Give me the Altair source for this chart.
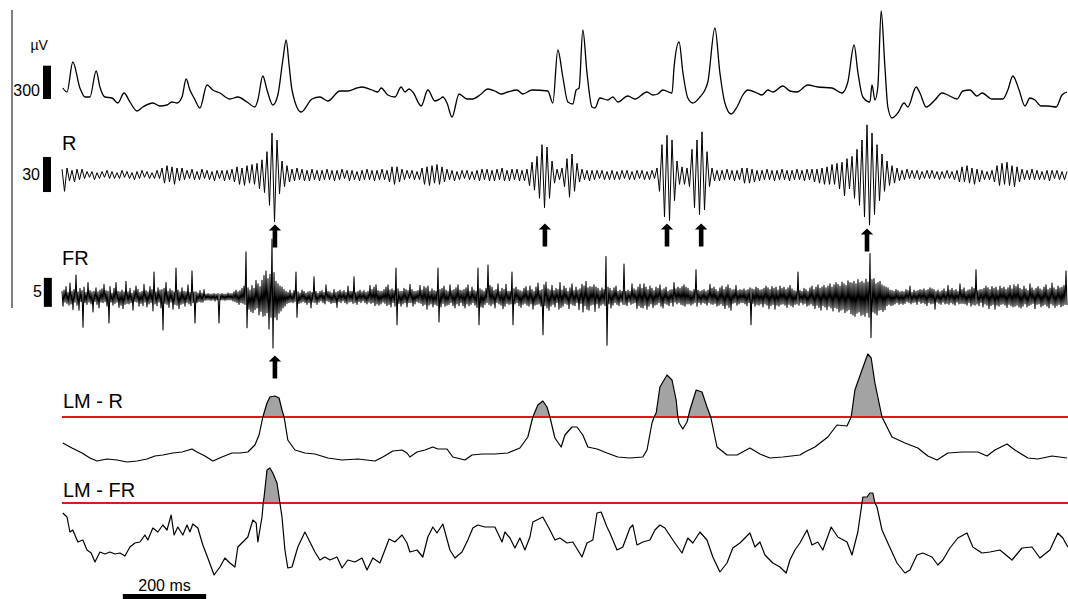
import altair as alt
import pandas as pd

# ---------------------------------------------------------------------------
# Recorded traces. Time in ms from the start of the sweep.
# ---------------------------------------------------------------------------

# Wide-band LFP (µV), breakpoints
raw_t = [2, 12, 26, 43, 55, 67, 82, 91, 103, 120,
         134, 149, 163, 180, 194, 218, 235, 252, 264, 276,
         288, 298, 307, 317, 331, 348, 362, 379, 403, 422,
         444, 463, 470, 482, 492, 506, 518, 530, 538, 545,
         552, 574, 600, 619, 638, 667, 686, 708, 720, 744,
         758, 766, 782, 799, 814, 823, 833, 842, 862, 878,
         895, 907, 914, 924, 936, 953, 972, 986, 1003, 1022,
         1039, 1054, 1070, 1092, 1106, 1128, 1166, 1178, 1190, 1202,
         1214, 1226, 1234, 1241, 1250, 1260, 1272, 1279, 1291, 1310,
         1322, 1334, 1358, 1375, 1404, 1418, 1430, 1442, 1464, 1469,
         1481, 1490, 1502, 1514, 1531, 1543, 1550, 1567, 1579, 1591,
         1606, 1620, 1634, 1646, 1668, 1680, 1694, 1706, 1730, 1747,
         1764, 1790, 1814, 1848, 1872, 1886, 1901, 1910, 1922, 1939,
         1944, 1951, 1958, 1966, 1975, 1982, 1992, 2006, 2021, 2030,
         2050, 2059, 2074, 2095, 2112, 2126, 2148, 2162, 2179, 2196,
         2208, 2232, 2258, 2270, 2282, 2297, 2311, 2323, 2335, 2350,
         2366, 2386, 2400, 2412]
raw_uv = [45, 9, 279, 45, -36, -36, 198, 54, -36, -45,
          -90, 0, -81, -162, -126, -90, -117, -108, -81, -90,
          -36, 126, 27, -45, -135, 72, 27, 0, -54, -36,
          -81, -126, -63, 153, 27, -108, -18, 297, 477, 252,
          27, -171, -54, -36, -72, 18, 18, 45, 54, 27,
          9, 45, -18, -36, 54, 9, 36, 9, -117, 27,
          -72, -54, -36, -90, -216, -9, -54, -54, -18, 36,
          18, -9, 9, 27, -9, 27, 18, -90, 387, 144,
          -81, -99, 27, 45, 567, 180, -126, -135, -45, -63,
          -36, -81, -27, -54, 9, -18, -9, 27, 0, 234,
          459, 189, -45, -90, -36, 27, 99, 585, 180, -90,
          -189, -126, -18, 27, 0, -18, 27, 9, 63, 18,
          9, 72, 54, 45, 0, 99, 432, 189, -36, -81,
          72, -63, 54, 738, 234, -126, -225, -180, -90, -126,
          54, 0, -126, -63, 0, -18, -54, 18, 27, -27,
          0, -54, -54, 27, 153, 27, -117, -45, -63, -117,
          -117, -126, -18, 9]

# Ripple band (R), successive half-cycle extremes, one every 6 ms
ripple_dt = 6.0
ripple = [5, -14, 6, -5, 4, -6, 5, -4, 5, -3, 3, -2, 3, -4, 2, -3, 3, -2, 4, -3,
          3, -3, 2, -3, 4, -2, 3, -3, 2, -4, 3, -3, 4, -2, 3, -3, 2, -3, 4, -3,
          6, -7, 8, -6, 7, -8, 6, -5, 6, -4, 4, -3, 5, -4, 3, -4, 5, -3, 4, -4,
          3, -5, 4, -3, 4, -5, 4, -4, 5, -6, 7, -8, 6, -9, 8, -7, 9, -8, 10, -12,
          13, -15, 20, -26, 36, -40, 30, -16, 12, -10, 8, -6, 5, -5, 6, -4, 5, -5, 4, -5,
          5, -4, 4, -5, 4, -4, 5, -4, 4, -5, 4, -4, 5, -3, 4, -5, 4, -4, 3, -5,
          4, -4, 5, -4, 4, -5, 4, -4, 5, -4, 4, -6, 7, -8, 7, -6, 5, -4, 4, -3,
          4, -4, 3, -4, 6, -8, 7, -9, 8, -7, 9, -8, 7, -6, 5, -4, 4, -5, 3, -4,
          4, -3, 4, -4, 3, -4, 4, -5, 5, -4, 5, -5, 4, -5, 5, -4, 6, -5, 4, -5,
          5, -4, 5, -5, 4, -5, 5, -9, 11, -13, 16, -20, 26, -28, 24, -20, 12, -7, 5, -4,
          6, -10, 14, -19, 18, -14, 10, -6, 5, -4, 4, -5, 4, -4, 4, -3, 4, -4, 3, -4,
          4, -4, 3, -4, 4, -3, 4, -4, 3, -4, 4, -3, 4, -4, 3, -4, 4, -3, 6, -14,
          26, -36, 34, -39, 30, -22, 12, -8, 7, -8, 6, -10, 22, -28, 30, -34, 37, -30, 20, -10,
          6, -5, 4, -5, 4, -4, 5, -4, 4, -5, 4, -4, 6, -7, 6, -7, 5, -6, 4, -5,
          4, -4, 5, -4, 4, -5, 4, -4, 5, -4, 4, -5, 4, -4, 5, -4, 4, -5, 5, -4,
          5, -6, 5, -7, 6, -8, 7, -8, 9, -8, 10, -12, 11, -18, 14, -12, 16, -20, 22, -26,
          30, -36, 43, -43, 36, -34, 26, -22, 18, -14, 12, -9, 8, -7, 6, -5, 4, -4, 5, -3,
          4, -3, 4, -4, 3, -3, 4, -3, 4, -3, 3, -4, 3, -3, 4, -3, 3, -4, 4, -6,
          7, -6, 8, -7, 6, -8, 5, -6, 4, -4, 3, -4, 4, -6, 8, -9, 10, -8, 11, -9,
          8, -10, 7, -6, 5, -4, 4, -4, 5, -4, 4, -4, 3, -4, 4, -5, 4, -3, 4, -4,
          3, -4, 3]

# Fast-ripple band (FR), successive extremes, one every 2.4 ms
fast_dt = 2.4
fast = [
    1.0, -1.6, 1.2, -0.9, 1.8, -1.1, 0.8, -1.4, 2.4, -1.2, 1.0, -2.2, 1.3, -0.9, 3.8, -1.4, 0.9, -2.3, 1.5, -0.8,
    1.1, -5.2, 1.7, -1.0, 0.8, -1.3, 2.5, -0.9, 1.1, -1.2, 0.9, -2.6, 1.0, -0.8, 1.6, -1.3, 0.9, -1.9, 1.2, -0.9,
    1.4, -1.0, 2.2, -0.8, 1.1, -1.6, 1.0, -4.5, 1.8, -0.9, 0.7, -1.4, 1.5, -1.1, 2.5, -0.9, 1.0, -1.8, 0.9, -1.4,
    1.2, -2.0, 0.9, -1.3, 2.7, -1.1, 0.9, -1.2, 1.5, -1.0, 0.7, -2.3, 1.1, -0.8, 1.9, -0.9, 1.3, -1.6, 0.8, -1.1,
    1.0, -1.5, 2.2, -0.9, 1.1, -1.7, 0.9, -1.2, 1.8, -1.0, 1.3, -2.4, 4.3, -1.2, 0.9, -1.5, 1.6, -0.9, 1.2, -1.9,
    1.3, -5.7, 1.5, -1.1, 2.5, -1.3, 1.0, -1.8, 1.4, -0.9, 1.1, -2.1, 0.9, -1.3, 5.0, -1.4, 1.2, -2.0, 0.9, -1.3,
    1.6, -1.1, 1.0, -1.6, 0.9, -1.0, 2.1, -1.2, 0.8, -1.5, 4.5, -1.0, 0.9, -4.5, 0.9, -1.0, 0.7, -0.8, 1.1, -0.9,
    0.7, -0.9, 1.3, -0.6, 0.5, -0.5, 0.6, -0.5, 0.5, -0.6, 0.5, -0.5, 0.6, -0.7, 0.5, -0.5, 0.6, -4.5, 0.5, -0.5,
    0.6, -0.5, 0.5, -0.6, 0.5, -0.5, 0.7, -0.5, 0.6, -0.5, 0.6, -0.7, 0.9, -0.8, 1.2, -1.0, 0.9, -1.3, 1.1, -1.0,
    1.5, -1.1, 1.9, -1.3, 7.8, -5.3, 1.6, -2.1, 1.2, -2.5, 2.0, -2.7, 1.5, -2.2, 2.9, -1.9, 2.3, -3.1, 1.8, -2.5,
    2.9, -3.3, 3.7, -3.2, 4.5, -2.7, 3.2, -5.5, 3.9, -3.5, 10.0, -8.8, 4.2, -3.5, 2.7, -3.9, 2.3, -2.8, 1.9, -2.4,
    1.7, -1.9, 1.3, -1.6, 1.0, -1.1, 0.8, -1.0, 1.2, -0.9, 0.7, -1.0, 1.1, -0.8, 4.3, -3.5, 0.9, -1.1, 0.7, -1.0,
    1.2, -0.8, 1.0, -1.0, 0.7, -1.3, 0.9, -1.0, 1.0, -1.9, 0.8, -0.9, 3.5, -1.0, 1.0, -1.3, 0.7, -0.9, 1.0, -0.7,
    1.1, -1.0, 0.8, -1.2, 2.1, -0.7, 1.0, -0.8, 0.9, -1.1, 0.7, -1.0, 1.3, -1.0, 0.8, -1.8, 1.0, -0.8, 1.2, -1.0,
    0.9, -0.7, 1.1, -1.0, 0.8, -1.2, 1.9, -0.9, 1.0, -0.8, 1.0, -1.1, 3.5, -1.0, 0.8, -1.3, 1.0, -0.8, 1.2, -1.0,
    0.9, -0.7, 1.1, -1.0, 0.8, -1.2, 1.0, -0.9, 2.0, -1.1, 1.3, -1.0, 1.7, -1.5, 2.1, -1.2, 1.1, -1.4, 1.0, -1.2,
    1.0, -0.9, 1.3, -1.1, 1.7, -1.5, 2.1, -1.3, 1.2, -1.7, 1.4, -1.0, 1.1, -1.6, 5.0, -4.8, 1.4, -1.1, 1.0, -1.6,
    1.0, -1.2, 1.5, -1.0, 1.3, -1.7, 1.1, -1.0, 2.2, -1.0, 1.3, -1.6, 1.0, -1.2, 1.0, -0.8, 1.1, -1.0, 2.0, -1.1,
    1.2, -1.5, 1.8, -1.3, 1.6, -2.1, 1.9, -1.4, 1.0, -1.2, 1.4, -1.7, 1.1, -1.3, 1.0, -1.5, 5.0, -4.3, 1.3, -1.7,
    1.5, -1.1, 1.9, -1.6, 1.2, -1.4, 1.0, -1.3, 2.1, -1.0, 1.1, -1.5, 1.3, -1.9, 1.6, -1.2, 2.1, -1.5, 1.2, -1.0,
    1.1, -1.5, 1.3, -1.9, 1.6, -1.2, 2.1, -1.5, 1.0, -1.3, 1.7, -1.0, 1.2, -1.4, 1.0, -1.8, 5.0, -4.8, 1.4, -1.7,
    1.2, -1.8, 1.0, -1.3, 1.5, -1.0, 5.5, -1.3, 2.0, -1.5, 1.7, -1.2, 1.1, -1.9, 1.3, -1.0, 2.3, -1.2, 1.0, -1.4,
    1.5, -2.0, 1.3, -1.6, 2.2, -1.1, 1.0, -1.3, 1.0, -1.2, 4.3, -4.8, 1.4, -1.2, 1.7, -1.0, 1.3, -1.5, 1.1, -1.8,
    1.0, -1.3, 1.5, -1.1, 1.8, -1.4, 1.1, -1.6, 1.9, -1.2, 1.3, -2.1, 1.0, -1.4, 1.7, -1.3, 2.4, -1.2, 1.1, -1.6,
    1.3, -6.5, 2.1, -1.5, 2.6, -1.9, 1.4, -2.3, 1.2, -1.6, 2.0, -1.3, 1.1, -1.7, 1.5, -1.0, 1.3, -2.1, 2.5, -1.8,
    1.2, -1.6, 1.9, -1.1, 1.5, -1.3, 1.0, -2.0, 1.6, -1.2, 2.3, -1.4, 1.1, -1.5, 1.7, -1.0, 1.2, -2.2, 1.4, -1.1,
    2.2, -2.6, 1.9, -1.5, 2.7, -2.1, 1.6, -2.3, 1.8, -1.4, 1.7, -1.3, 2.1, -2.5, 1.7, -1.2, 1.5, -1.9, 1.1, -1.4,
    1.6, -1.2, 1.3, -1.5, 7.0, -8.3, 1.7, -1.2, 1.5, -1.9, 1.1, -1.4, 1.6, -1.0, 1.9, -1.3, 1.0, -1.5, 1.2, -0.9,
    1.0, -1.3, 5.7, -1.3, 1.0, -1.5, 1.2, -0.9, 1.0, -1.3, 2.3, -1.1, 1.4, -1.0, 1.2, -2.0, 1.7, -1.5, 2.2, -1.8,
    1.5, -1.9, 2.3, -1.4, 1.7, -2.1, 1.3, -1.6, 1.9, -1.2, 1.5, -1.8, 1.1, -1.4, 1.7, -1.3, 1.5, -1.0, 2.1, -1.6,
    1.2, -1.9, 1.4, -1.1, 1.7, -1.3, 1.0, -1.5, 1.2, -1.0, 1.3, -1.6, 2.5, -0.9, 1.4, -1.2, 1.7, -1.0, 1.5, -1.3,
    1.8, -1.4, 2.1, -1.6, 1.7, -1.2, 1.5, -1.2, 1.1, -1.4, 1.0, -1.2, 1.3, -1.0, 4.7, -1.6, 1.2, -1.0, 1.0, -1.3,
    1.1, -1.0, 1.3, -1.1, 1.0, -1.4, 1.2, -1.0, 2.2, -1.2, 1.5, -1.3, 1.7, -1.1, 1.3, -1.6, 1.0, -1.4, 1.6, -1.2,
    1.9, -1.5, 1.3, -2.0, 1.7, -1.4, 2.1, -1.8, 1.5, -2.3, 1.2, -1.1, 1.3, -1.0, 2.0, -1.4, 1.1, -1.2, 1.3, -1.0,
    1.2, -1.0, 1.4, -1.2, 1.1, -1.5, 1.3, -1.0, 1.6, -4.8, 1.4, -1.1, 1.3, -1.6, 1.7, -1.3, 1.5, -1.4, 1.2, -1.2,
    1.3, -1.7, 1.5, -1.2, 1.9, -1.4, 1.6, -2.0, 1.3, -1.5, 1.8, -1.3, 1.5, -2.1, 1.7, -1.4, 1.2, -1.6, 1.9, -1.3,
    1.5, -1.2, 1.7, -1.4, 1.3, -1.8, 1.6, -1.3, 2.0, -1.5, 1.4, -1.7, 1.1, -1.3, 1.0, -1.2, 4.3, -1.4, 1.1, -1.0,
    1.0, -1.3, 1.5, -1.1, 1.3, -1.6, 1.0, -1.4, 1.6, -1.2, 1.9, -1.5, 1.3, -2.0, 1.7, -1.4, 2.1, -1.8, 1.5, -2.3,
    1.7, -1.5, 2.0, -1.7, 1.6, -2.2, 1.9, -1.6, 2.3, -1.9, 1.7, -2.4, 2.1, -1.8, 2.5, -2.0, 2.2, -2.6, 1.9, -2.3,
    2.6, -2.1, 2.3, -2.7, 2.0, -2.4, 2.8, -2.2, 2.5, -2.9, 2.4, -3.1, 2.7, -3.3, 2.3, -2.8, 3.0, -2.6, 2.5, -3.2,
    2.7, -3.0, 2.4, -3.3, 3.1, -2.7, 2.6, -3.5, 7.5, -7.0, 3.0, -2.6, 3.2, -2.8, 2.3, -3.1, 2.5, -2.3, 2.7, -2.2,
    2.1, -2.5, 1.9, -2.2, 1.7, -1.5, 1.6, -1.3, 1.2, -1.5, 1.1, -1.4, 1.0, -1.2, 1.3, -1.0, 1.1, -1.3, 0.9, -1.1,
    1.0, -1.3, 0.9, -1.1, 1.3, -0.8, 1.1, -1.0, 1.9, -1.2, 0.8, -1.0, 1.2, -0.9, 1.0, -1.3, 1.1, -0.8, 1.3, -1.1,
    1.2, -1.0, 1.4, -1.2, 1.1, -1.5, 1.3, -1.0, 1.6, -1.2, 1.4, -1.1, 1.3, -2.1, 1.0, -0.9, 1.2, -1.1, 0.9, -1.3,
    1.1, -0.9, 1.4, -1.2, 1.0, -1.1, 2.0, -1.3, 1.2, -1.0, 1.5, -1.2, 1.1, -1.4, 1.3, -0.9, 1.0, -1.2, 2.3, -1.1,
    1.3, -1.1, 1.6, -1.2, 1.0, -1.4, 1.2, -1.0, 1.3, -1.6, 1.7, -1.3, 1.5, -1.4, 4.7, -1.2, 1.1, -1.5, 1.3, -1.0,
    1.3, -1.7, 1.5, -1.2, 1.9, -1.4, 1.6, -2.0, 1.3, -1.5, 1.8, -1.3, 1.5, -2.1, 1.7, -1.4, 1.2, -1.6, 1.9, -1.3,
    1.5, -1.2, 1.7, -1.4, 1.3, -1.8, 1.6, -1.3, 2.0, -1.5, 1.4, -1.7, 2.1, -1.6, 1.8, -1.4, 2.2, -1.7, 1.5, -1.9,
    1.3, -1.6, 1.9, -1.2, 1.4, -1.7, 1.1, -1.5, 2.3, -1.3, 1.6, -1.1, 1.2, -2.0, 1.5, -1.3, 1.8, -1.2, 1.4, -1.7,
    1.2, -1.5, 1.7, -1.3, 2.1, -1.6, 1.3, -1.9, 1.5, -1.2, 2.4, -1.4, 1.6, -1.8, 1.3, -1.5, 1.9, -1.3, 1.6, -1.7,
    1.7, -1.5, 2.0, -1.3, 4.5, -1.4,
]

# Line-length detector outputs, normalised so that the detection threshold is 1
lm_r_t = [2, 24, 48, 67, 84, 108, 132, 156, 180, 204,
          223, 242, 266, 288, 312, 324, 343, 362, 384, 408,
          427, 446, 463, 473, 482, 492, 499, 511, 521, 528,
          533, 535, 542, 559, 583, 607, 638, 672, 710, 751,
          770, 794, 816, 828, 835, 852, 871, 890, 902, 924,
          938, 967, 984, 1008, 1039, 1070, 1099, 1118, 1130, 1142,
          1154, 1164, 1171, 1183, 1198, 1207, 1224, 1236, 1250, 1262,
          1284, 1308, 1334, 1363, 1394, 1404, 1416, 1421, 1426, 1435,
          1452, 1464, 1474, 1478, 1481, 1490, 1500, 1503, 1507, 1522,
          1536, 1548, 1557, 1560, 1572, 1596, 1620, 1651, 1675, 1699,
          1730, 1771, 1783, 1807, 1838, 1860, 1884, 1894, 1903, 1920,
          1934, 1942, 1951, 1963, 1968, 1992, 2023, 2054, 2078, 2100,
          2126, 2160, 2198, 2220, 2239, 2268, 2287, 2318, 2342, 2376,
          2412]
lm_r_v = [0.48, 0.38, 0.28, 0.18, 0.12, 0.16, 0.14, 0.10, 0.12, 0.16,
          0.22, 0.24, 0.28, 0.30, 0.36, 0.30, 0.22, 0.12, 0.20, 0.28,
          0.28, 0.30, 0.44, 0.64, 1.00, 1.28, 1.40, 1.42, 1.38, 1.14,
          1.00, 0.90, 0.54, 0.34, 0.28, 0.26, 0.18, 0.14, 0.16, 0.12,
          0.20, 0.32, 0.34, 0.28, 0.20, 0.30, 0.34, 0.40, 0.36, 0.36,
          0.20, 0.14, 0.24, 0.26, 0.26, 0.28, 0.38, 0.60, 1.00, 1.24,
          1.32, 1.20, 1.00, 0.58, 0.40, 0.64, 0.80, 0.80, 0.64, 0.40,
          0.36, 0.28, 0.20, 0.18, 0.20, 0.34, 0.88, 1.00, 1.08, 1.60,
          1.84, 1.74, 1.34, 1.00, 0.88, 0.76, 0.90, 1.00, 1.14, 1.54,
          1.50, 1.20, 1.00, 0.88, 0.40, 0.24, 0.24, 0.38, 0.26, 0.18,
          0.20, 0.24, 0.30, 0.40, 0.60, 0.84, 0.82, 1.00, 1.54, 1.94,
          2.26, 2.18, 1.68, 1.20, 1.00, 0.60, 0.48, 0.38, 0.22, 0.14,
          0.28, 0.30, 0.30, 0.22, 0.34, 0.46, 0.34, 0.18, 0.16, 0.22,
          0.18]

lm_fr_t = [2, 12, 19, 26, 38, 50, 60, 70, 79, 91,
           103, 115, 127, 139, 151, 163, 175, 187, 199, 206,
           218, 230, 242, 252, 262, 269, 278, 290, 300, 307,
           314, 326, 338, 350, 365, 379, 391, 403, 415, 422,
           434, 446, 458, 466, 470, 480, 483, 485, 492, 499,
           506, 516, 521, 523, 528, 535, 542, 552, 566, 583,
           595, 607, 619, 631, 643, 660, 672, 686, 703, 720,
           732, 746, 763, 775, 785, 799, 816, 828, 835, 852,
           866, 878, 890, 900, 914, 931, 943, 960, 974, 986,
           998, 1015, 1039, 1056, 1063, 1075, 1087, 1099, 1111, 1123,
           1130, 1154, 1171, 1183, 1195, 1212, 1226, 1248, 1260, 1274,
           1284, 1294, 1308, 1315, 1332, 1346, 1363, 1370, 1380, 1394,
           1411, 1423, 1435, 1447, 1466, 1488, 1502, 1514, 1531, 1548,
           1562, 1579, 1596, 1610, 1627, 1651, 1663, 1675, 1687, 1706,
           1723, 1738, 1747, 1759, 1771, 1788, 1800, 1814, 1826, 1846,
           1862, 1884, 1896, 1910, 1920, 1922, 1932, 1939, 1946, 1951,
           1956, 1968, 1982, 2004, 2023, 2035, 2052, 2066, 2088, 2102,
           2114, 2131, 2150, 2172, 2186, 2208, 2227, 2251, 2280, 2304,
           2328, 2347, 2371, 2390, 2402, 2414]
lm_fr_v = [0.80, 0.72, 0.42, 0.46, 0.22, 0.26, 0.06, 0.00, -0.18, 0.02,
           -0.02, 0.02, -0.02, 0.00, -0.06, 0.12, 0.20, 0.22, 0.36, 0.26,
           0.50, 0.42, 0.56, 0.46, 0.76, 0.36, 0.52, 0.36, 0.56, 0.42,
           0.58, 0.50, 0.16, -0.10, -0.44, -0.28, -0.10, -0.20, -0.28, 0.12,
           0.22, 0.32, 0.66, 0.60, 0.22, 0.72, 1.00, 1.12, 1.66, 1.70,
           1.60, 1.40, 1.12, 1.00, 0.72, 0.06, -0.30, -0.28, 0.12, 0.42,
           0.22, 0.02, -0.14, -0.08, -0.14, -0.08, -0.30, -0.14, -0.18, -0.10,
           -0.34, -0.10, -0.20, 0.06, 0.28, 0.22, 0.36, 0.20, 0.02, 0.06,
           -0.08, 0.32, 0.52, 0.40, 0.58, 0.06, -0.10, 0.02, 0.26, 0.50,
           0.56, 0.52, 0.52, 0.22, 0.42, 0.30, 0.10, 0.30, 0.06, 0.32,
           0.62, 0.72, 0.46, 0.26, 0.30, 0.20, 0.22, -0.08, 0.20, 0.26,
           0.80, 0.82, 0.52, 0.40, 0.06, 0.12, 0.50, 0.56, 0.16, 0.22,
           0.26, 0.46, 0.56, 0.50, 0.26, 0.00, 0.30, 0.20, 0.42, 0.26,
           -0.08, -0.38, -0.20, 0.10, 0.20, 0.40, 0.12, 0.22, -0.04, -0.20,
           -0.28, -0.40, -0.14, 0.06, 0.20, 0.46, 0.16, 0.22, 0.06, 0.52,
           0.32, 0.22, -0.04, 0.42, 1.00, 1.12, 1.12, 1.20, 1.20, 1.00,
           0.92, 0.46, 0.20, -0.20, -0.40, -0.34, -0.04, 0.00, -0.08, -0.24,
           -0.14, 0.10, 0.30, 0.40, 0.12, 0.00, 0.02, 0.06, -0.14, 0.10,
           0.12, -0.10, 0.06, 0.40, 0.30, 0.12]
THRESHOLD = 1.0

# Detected events (ms) marked with arrows
ripple_events = [511, 1159, 1452, 1534, 1932]
fast_events = [511]

# ---------------------------------------------------------------------------
# Layout: every trace sits on its own row of a shared vertical canvas
# (row baseline, canvas units per signal unit)
# ---------------------------------------------------------------------------
ROWS = {
    "raw": (93, 1 / 9),
    "ripple": (175, 35 / 30),
    "fast": (297, 29 / 5),
    "lm_r": (467, 50),
    "lm_fr": (553, 50),
}
T_START, T_END = -148.8, 2414.4
W, H = 1068, 599

xs = alt.Scale(domain=[T_START, T_END], nice=False, zero=False)
ys = alt.Scale(domain=[0, H], reverse=True, nice=False, zero=False)
X = alt.X("t:Q", scale=xs, axis=None)


def row_expr(row, field="datum.v"):
    base, gain = ROWS[row]
    return f"{base} - ({field}) * {gain}"


def trace(df, row, width=1.0, interpolate="linear"):
    return (
        alt.Chart(df)
        .transform_calculate(yp=row_expr(row))
        .mark_line(color="black", strokeWidth=width, strokeJoin="round",
                   interpolate=interpolate)
        .encode(x=X, y=alt.Y("yp:Q", scale=ys, axis=None))
    )


def above_threshold(df, row):
    return (
        alt.Chart(df)
        .transform_calculate(
            top=row_expr(row, f"max(datum.v, {THRESHOLD})"),
            thr=row_expr(row, f"{THRESHOLD}"),
        )
        .mark_area(color="#a3a3a3", opacity=1)
        .encode(x=X, y=alt.Y("top:Q", scale=ys, axis=None), y2="thr:Q")
    )


def threshold_line(row):
    df = pd.DataFrame({"t": [0.0], "t2": [T_END], "v": [THRESHOLD]})
    return (
        alt.Chart(df)
        .transform_calculate(yp=row_expr(row))
        .mark_rule(color="#e3161b", strokeWidth=2)
        .encode(x=X, x2="t2:Q", y=alt.Y("yp:Q", scale=ys, axis=None))
    )


def amplitude_bar(row, t, v0, v1):
    df = pd.DataFrame({"t": [t], "v0": [v0], "v1": [v1]})
    return (
        alt.Chart(df)
        .transform_calculate(y0=row_expr(row, "datum.v0"), y1=row_expr(row, "datum.v1"))
        .mark_rule(color="black", strokeWidth=8, strokeCap="butt")
        .encode(x=X, y=alt.Y("y0:Q", scale=ys, axis=None), y2="y1:Q")
    )


def label(text, t, yp, size, align="left"):
    df = pd.DataFrame({"t": [t], "yp": [yp], "s": [text]})
    return (
        alt.Chart(df)
        .mark_text(align=align, baseline="alphabetic", fontSize=size,
                   font="Liberation Sans", color="black")
        .encode(x=X, y=alt.Y("yp:Q", scale=ys, axis=None), text="s:N")
    )


ARROW = "M0,-1L0.54,-0.48L0.2,-0.48L0.2,1L-0.2,1L-0.2,-0.48L-0.54,-0.48Z"


def arrows(times, yp):
    df = pd.DataFrame({"t": times, "yp": yp})
    return (
        alt.Chart(df)
        .mark_point(shape=ARROW, size=529, filled=True, color="black",
                    opacity=1, strokeWidth=0)
        .encode(x=X, y=alt.Y("yp:Q", scale=ys, axis=None))
    )


raw_df = pd.DataFrame({"t": raw_t, "v": raw_uv})
ripple_df = pd.DataFrame({"t": [i * ripple_dt for i in range(len(ripple))], "v": ripple})
fast_df = pd.DataFrame({"t": [i * fast_dt for i in range(len(fast))], "v": fast})
lm_r_df = pd.DataFrame({"t": lm_r_t, "v": lm_r_v})
lm_fr_df = pd.DataFrame({"t": lm_fr_t, "v": lm_fr_v})

# Left-hand frame line joining the three recorded channels
frame_df = pd.DataFrame({"t": [-120.0], "y0": [10], "y1": [308]})
frame = alt.Chart(frame_df).mark_rule(color="black", strokeWidth=1).encode(
    x=X, y=alt.Y("y0:Q", scale=ys, axis=None), y2="y1:Q")

# Time scale bar: 200 ms
time_bar_df = pd.DataFrame({"t": [146.0], "t2": [346.0], "yp": [596.5]})
time_bar = alt.Chart(time_bar_df).mark_rule(color="black", strokeWidth=5, strokeCap="butt").encode(
    x=X, x2="t2:Q", y=alt.Y("yp:Q", scale=ys, axis=None))

layers = [
    above_threshold(lm_r_df, "lm_r"),
    above_threshold(lm_fr_df, "lm_fr"),
    threshold_line("lm_r"),
    threshold_line("lm_fr"),
    trace(raw_df, "raw", 1.3, "monotone"),
    trace(ripple_df, "ripple", 1.0),
    trace(fast_df, "fast", 1.05),
    trace(lm_r_df, "lm_r", 1.2),
    trace(lm_fr_df, "lm_fr", 1.2),
    frame,
    amplitude_bar("raw", -36, -54, 246),
    amplitude_bar("ripple", -36, -14.6, 15.4),
    amplitude_bar("fast", -34, -1.7, 3.3),
    time_bar,
    arrows(ripple_events, [236, 235, 235, 235, 240]),
    arrows(fast_events, [367]),
    label("µV", -55, 50, 14, "center"),
    label("300", -52.8, 96, 16, "right"),
    label("30", -52.8, 180, 16, "right"),
    label("5", -48, 297, 16, "right"),
    label("R", 0, 150, 20),
    label("FR", 0, 265, 20),
    label("LM - R", 2.4, 408, 20),
    label("LM - FR", 2.4, 497, 20),
    label("200 ms", 246, 591, 16, "center"),
]

chart = (
    alt.layer(*layers)
    .properties(width=W, height=H, autosize=alt.AutoSizeParams(type="none"), padding=0,
                background="white")
    .configure_view(stroke=None)
)

chart.save("out.html", embed_options={"renderer": "svg", "actions": False})
